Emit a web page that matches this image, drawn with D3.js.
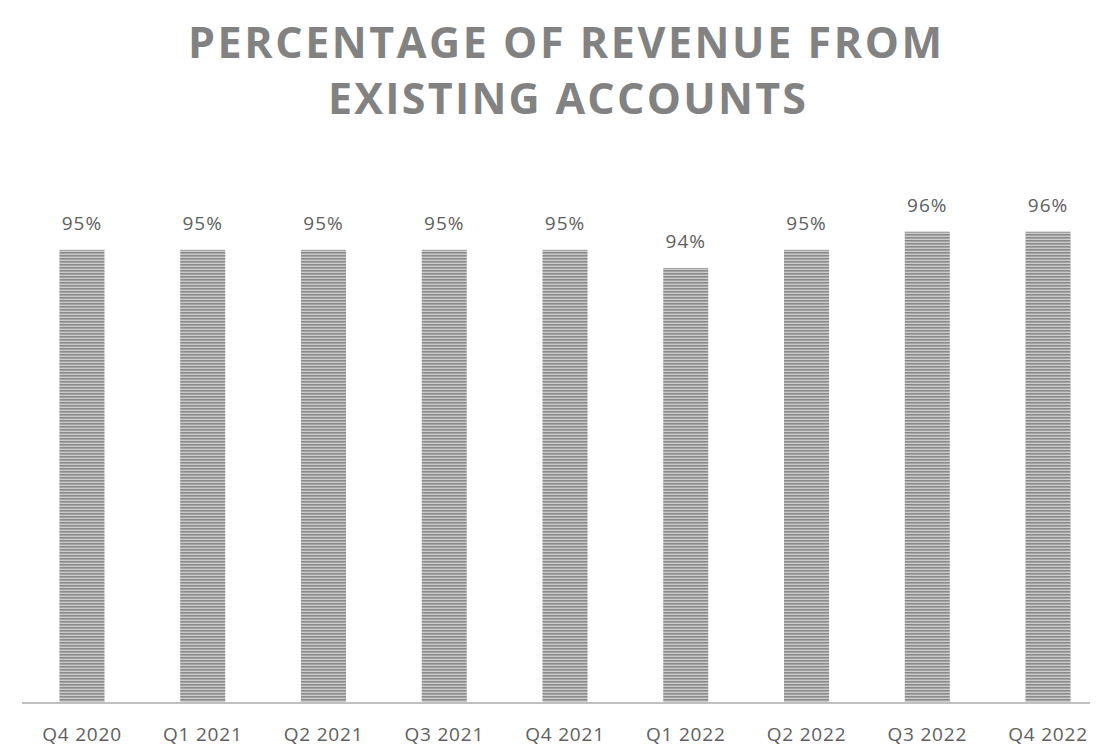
<!DOCTYPE html>
<html>
<head>
<meta charset="utf-8">
<script src="https://cdn.jsdelivr.net/npm/d3@7"></script>
<style>
  html, body { margin: 0; padding: 0; background: #ffffff; }
  svg { display: block; }
</style>
</head>
<body>
<svg id="chart" width="1100" height="749"></svg>
<script>
const categories = ["Q4 2020","Q1 2021","Q2 2021","Q3 2021","Q4 2021","Q1 2022","Q2 2022","Q3 2022","Q4 2022"];
const values = [95, 95, 95, 95, 95, 94, 95, 96, 96];
const valueLabels = ["95%","95%","95%","95%","95%","94%","95%","96%","96%"];
const titleLines = ["PERCENTAGE OF REVENUE FROM", "EXISTING ACCOUNTS"];

const svg = d3.select("#chart");

const defs = svg.append("defs");
const pat = defs.append("pattern")
  .attr("id", "stripes")
  .attr("patternUnits", "userSpaceOnUse")
  .attr("width", 8).attr("height", 3);
pat.append("rect").attr("width", 8).attr("height", 3).attr("fill", "#cbcbcb");
pat.append("rect").attr("width", 8).attr("height", 1.6).attr("fill", "#8a8a8a");

const x = d3.scaleBand()
  .domain(categories)
  .range([21.6, 1108.4])
  .paddingInner(0.627)
  .paddingOuter(0.3135);

const y = d3.scaleLinear()
  .domain([70, 100])
  .range([703, 159.2]);

// Title
const title = svg.append("g").attr("font-family", "'Open Sans', sans-serif")
  .attr("font-weight", 700).attr("fill", "#828282").attr("text-anchor", "middle");
title.append("text").attr("x", 565).attr("y", 58).attr("font-size", 43)
  .attr("textLength", 754).attr("lengthAdjust", "spacing").text(titleLines[0]);
title.append("text").attr("x", 567).attr("y", 114).attr("font-size", 43)
  .attr("textLength", 478).attr("lengthAdjust", "spacing").text(titleLines[1]);

// Bars
svg.append("g").selectAll("rect").data(values).join("rect")
  .attr("x", (d, i) => x(categories[i]))
  .attr("width", x.bandwidth())
  .attr("y", d => y(d))
  .attr("height", d => y(70) - y(d))
  .attr("fill", "url(#stripes)");

// Value labels
svg.append("g").attr("font-family", "'Open Sans', sans-serif").attr("font-size", 19)
  .attr("letter-spacing", 1).attr("fill", "#606060").attr("text-anchor", "middle")
  .selectAll("text").data(values).join("text")
  .attr("x", (d, i) => x(categories[i]) + x.bandwidth() / 2)
  .attr("y", d => y(d) - 20)
  .text((d, i) => valueLabels[i]);

// Axis
const axis = d3.axisBottom(x).tickSize(0).tickPadding(0);
const ag = svg.append("g").attr("transform", `translate(0,${y(70)})`).call(axis);
ag.select(".domain").attr("stroke", "#c0c0c0").attr("stroke-width", 2)
  .attr("d", "M22,0H1090");
ag.selectAll(".tick text")
  .attr("font-family", "'Open Sans', sans-serif")
  .attr("font-size", 19)
  .attr("letter-spacing", 0.8)
  .attr("fill", "#606060")
  .attr("dy", 0)
  .attr("y", 38);
</script>
</body>
</html>
